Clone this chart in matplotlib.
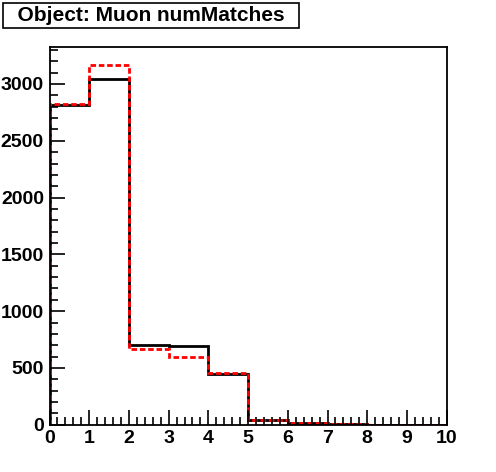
import matplotlib
matplotlib.use("Agg")
import matplotlib.pyplot as plt
import numpy as np
from matplotlib.ticker import MultipleLocator

plt.rcParams['font.family'] = ['Liberation Sans', 'DejaVu Sans']
plt.rcParams['font.weight'] = 'bold'

# numMatches histogram, bins 0..10
bin_edges = np.arange(0, 11)
counts_black = [2815, 3045, 705, 690, 448, 40, 15, 3, 1, 0]
counts_red = [2828, 3166, 664, 595, 452, 40, 15, 3, 1, 0]
title = "Object: Muon numMatches"

W, H = 496, 472
fig = plt.figure(figsize=(W / 100, H / 100), dpi=100)
ax = fig.add_axes([49.5 / W, 1 - 424.8 / H, (446.7 - 49.5) / W, (424.8 - 47.3) / H])

ax.stairs(counts_black, bin_edges, color='black', linewidth=2)
ax.stairs(counts_red, bin_edges, color='red', linewidth=2, linestyle=(0, (2, 1)))

ax.set_xlim(0, 10)
ax.set_ylim(0, 3323)
ax.xaxis.set_major_locator(MultipleLocator(1))
ax.xaxis.set_minor_locator(MultipleLocator(0.2))
ax.yaxis.set_major_locator(MultipleLocator(500))
ax.yaxis.set_minor_locator(MultipleLocator(100))
ax.tick_params(which='both', direction='in', top=False, right=False, width=1.2)
ax.tick_params(which='major', length=11, labelsize=14, pad=4)
ax.tick_params(which='minor', length=6)
for s in ax.spines.values():
    s.set_linewidth(1.3)

fig.text(6 / W, 1 - 15.5 / H, "  " + title + "  ", fontsize=15, fontweight='bold',
         va='center', ha='left',
         bbox=dict(boxstyle='square,pad=0.15', fc='white', ec='black', lw=1.2))

fig.savefig('out.png', dpi=100)
